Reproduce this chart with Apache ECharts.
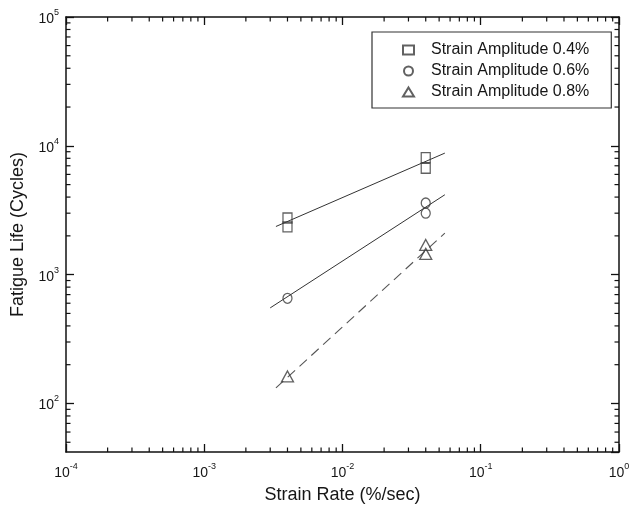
<!DOCTYPE html>
<html>
<head>
<meta charset="utf-8">
<script src="https://cdn.jsdelivr.net/npm/echarts@6/dist/echarts.min.js"></script>
<style>html,body{margin:0;padding:0;background:#fff;}#c{width:637px;height:511px;}</style>
</head>
<body>
<div id="c"></div>
<script>
// ---- data ----
const seriesNames = ['Strain Amplitude 0.4%', 'Strain Amplitude 0.6%', 'Strain Amplitude 0.8%'];
const rate04 = [0.004, 0.004, 0.04, 0.04];
const life04 = [2750, 2350, 8100, 6700];
const rate06 = [0.004, 0.04, 0.04];
const life06 = [655, 3600, 3000];
const rate08 = [0.004, 0.04, 0.04];
const life08 = [162, 1700, 1450];
// fitted lines (end points)
const fitRate04 = [0.0033, 0.055];
const fitLife04 = [2365, 8780];
const fitRate06 = [0.0030, 0.055];
const fitLife06 = [552, 4170];
const fitRate08 = [0.0033, 0.055];
const fitLife08 = [132, 2100];
// axes
const xMin = 1e-4, xMax = 1;
const yMin = 42, yMax = 1e5;
const xDecades = [-4, -3, -2, -1];
const yDecades = [1, 2, 3, 4];
const minorSteps = [2, 3, 4, 5, 6, 7, 8, 9];

const FONT = "'Liberation Sans', Arial, sans-serif";
const TEXT = '#161616';
const pairs = (xs, ys) => xs.map((x, i) => [x, ys[i]]);

// minor tick positions (for the frame)
const minorData = [];
xDecades.forEach(k => minorSteps.forEach(m => {
  const v = m * Math.pow(10, k);
  minorData.push([v, yMin, 0]);
  minorData.push([v, yMax, 1]);
}));
yDecades.forEach(k => minorSteps.forEach(m => {
  const v = m * Math.pow(10, k);
  if (v > yMin && v < yMax) {
    minorData.push([xMin, v, 2]);
    minorData.push([xMax, v, 3]);
  }
}));

function powLabel(v) {
  const e = Math.log10(v);
  const r = Math.round(e);
  if (Math.abs(e - r) > 1e-6) return '';
  return '{b|10}{s|' + r + '}';
}
const rich = {
  b: { fontSize: 14, fontFamily: FONT, color: TEXT, lineHeight: 18, verticalAlign: 'bottom' },
  s: { fontSize: 9, fontFamily: FONT, color: TEXT, lineHeight: 10, verticalAlign: 'top' }
};

const markerStyle = { color: 'rgba(0,0,0,0)', borderColor: '#3a3a3a', borderWidth: 1.3 };
const axisLine = { show: true, onZero: false, lineStyle: { color: '#111', width: 1.5 } };
const axisTick = { show: true, inside: true, length: 8, lineStyle: { color: '#111', width: 1.3 } };

const chart = echarts.init(document.getElementById('c'), null, { renderer: 'canvas' });
chart.setOption({
  backgroundColor: '#fff',
  animation: false,
  grid: { left: 66, right: 18, top: 17, bottom: 59, containLabel: false },
  legend: {
    orient: 'vertical',
    left: 372, top: 32,
    padding: [10, 22, 8, 30],
    itemWidth: 11, itemHeight: 9, itemGap: 5,
    borderColor: '#333', borderWidth: 1.2,
    backgroundColor: '#fff',
    textStyle: { fontFamily: FONT, fontSize: 16, color: TEXT, lineHeight: 16, padding: [0, 0, 0, 12] },
    data: seriesNames
  },
  xAxis: [
    {
      type: 'log', logBase: 10, min: xMin, max: xMax, position: 'bottom',
      name: 'Strain Rate (%/sec)', nameLocation: 'middle', nameGap: 34,
      nameTextStyle: { fontFamily: FONT, fontSize: 18, color: TEXT },
      axisLine: axisLine, axisTick: axisTick, splitLine: { show: false },
      axisLabel: { margin: 10, formatter: powLabel, rich: rich }
    },
    {
      type: 'log', logBase: 10, min: xMin, max: xMax, position: 'top',
      axisLine: axisLine, axisTick: axisTick, splitLine: { show: false },
      axisLabel: { show: false }
    }
  ],
  yAxis: [
    {
      type: 'log', logBase: 10, min: yMin, max: yMax, position: 'left',
      name: 'Fatigue Life (Cycles)', nameLocation: 'middle', nameGap: 35,
      nameTextStyle: { fontFamily: FONT, fontSize: 18, color: TEXT },
      axisLine: axisLine, axisTick: axisTick, splitLine: { show: false },
      axisLabel: { margin: 7, formatter: powLabel, rich: rich, showMinLabel: false }
    },
    {
      type: 'log', logBase: 10, min: yMin, max: yMax, position: 'right',
      axisLine: axisLine, axisTick: axisTick, splitLine: { show: false },
      axisLabel: { show: false }
    }
  ],
  series: [
    {
      type: 'custom', name: 'minorTicks', silent: true, clip: false, z: 10,
      encode: { x: 0, y: 1 },
      data: minorData,
      renderItem: function (params, api) {
        const p = api.coord([api.value(0), api.value(1)]);
        const d = api.value(2);
        const L = 4.5;
        let x2 = p[0], y2 = p[1];
        if (d === 0) y2 -= L; else if (d === 1) y2 += L; else if (d === 2) x2 += L; else x2 -= L;
        return { type: 'line', shape: { x1: p[0], y1: p[1], x2: x2, y2: y2 }, style: { stroke: '#111', lineWidth: 1.2 } };
      }
    },
    {
      type: 'line', name: 'fit04', data: pairs(fitRate04, fitLife04), symbol: 'none',
      lineStyle: { color: '#333', width: 1 }, silent: true
    },
    {
      type: 'line', name: 'fit06', data: pairs(fitRate06, fitLife06), symbol: 'none',
      lineStyle: { color: '#333', width: 1 }, silent: true
    },
    {
      type: 'line', name: 'fit08', data: pairs(fitRate08, fitLife08), symbol: 'none',
      lineStyle: { color: '#555', width: 1.1, type: [10, 6] }, silent: true
    },
    {
      type: 'scatter', name: seriesNames[0], data: pairs(rate04, life04),
      symbol: 'rect', symbolSize: [9, 10], itemStyle: markerStyle, z: 5
    },
    {
      type: 'scatter', name: seriesNames[1], data: pairs(rate06, life06),
      symbol: 'circle', symbolSize: [9, 10], itemStyle: markerStyle, z: 5
    },
    {
      type: 'scatter', name: seriesNames[2], data: pairs(rate08, life08),
      symbol: 'triangle', symbolSize: [12, 11], itemStyle: markerStyle, z: 5
    }
  ]
});
</script>
</body>
</html>
